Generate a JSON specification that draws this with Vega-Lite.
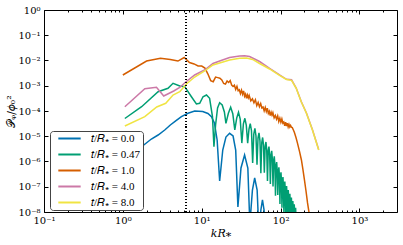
{
"$schema":"https://vega.github.io/schema/vega-lite/v6.json",
"width":353,"height":202,
"autosize":{"type":"none"},
"padding":{"left":44,"top":10,"right":6,"bottom":33},
"config":{"view":{"stroke":"#000","strokeWidth":1},"font":"DejaVu Serif"},
"data":{"values":[
{"t":"0.0","k":1,"P":7.27e-7},{"t":"0.0","k":1.4,"P":1.81e-6},{"t":"0.0","k":1.73,"P":3.86e-6},{"t":"0.0","k":2.3,"P":7.78e-6},{"t":"0.0","k":2.8,"P":1.12e-5},{"t":"0.0","k":3.4,"P":1.77e-5},{"t":"0.0","k":4.0,"P":2.79e-5},{"t":"0.0","k":4.55,"P":3.77e-5},{"t":"0.0","k":5.53,"P":5.95e-5},{"t":"0.0","k":6.71,"P":8.11e-5},{"t":"0.0","k":8.15,"P":1.0e-4},{"t":"0.0","k":10.3,"P":9.55e-5},{"t":"0.0","k":12.0,"P":7.96e-5},{"t":"0.0","k":13.3,"P":5.95e-5},{"t":"0.0","k":14.5,"P":3.35e-5},{"t":"0.0","k":15.7,"P":7.1e-6},{"t":"0.0","k":16.9,"P":1.69e-7},{"t":"0.0","k":18.5,"P":2.85e-6},{"t":"0.0","k":20.3,"P":9.33e-6},{"t":"0.0","k":22.6,"P":1.31e-5},{"t":"0.0","k":25,"P":1.02e-5},{"t":"0.0","k":27,"P":2.85e-6},{"t":"0.0","k":28.8,"P":1.58e-8},{"t":"0.0","k":31.5,"P":5.53e-7},{"t":"0.0","k":35,"P":1.81e-6},{"t":"0.0","k":38.5,"P":5.53e-7},{"t":"0.0","k":40.8,"P":3.2e-9},{"t":"0.0","k":44,"P":7.43e-8},{"t":"0.0","k":47,"P":2.22e-7},{"t":"0.0","k":50.5,"P":7.43e-8},{"t":"0.0","k":53.5,"P":1e-9},{"t":"0.0","k":56.3,"P":1.2e-8},{"t":"0.0","k":59,"P":2.99e-8},{"t":"0.0","k":61.8,"P":1.2e-8},{"t":"0.0","k":64.5,"P":1e-9},
{"t":"0.47","k":1.06,"P":5.05e-5},{"t":"0.47","k":1.73,"P":1.48e-4},{"t":"0.47","k":2.8,"P":5.81e-4},{"t":"0.47","k":3.74,"P":7.93e-4},{"t":"0.47","k":4.33,"P":1.25e-3},{"t":"0.47","k":5.27,"P":9.77e-4},{"t":"0.47","k":6.09,"P":9.17e-4},{"t":"0.47","k":7.41,"P":3.68e-4},{"t":"0.47","k":8.57,"P":1.89e-4},{"t":"0.47","k":9.43,"P":2.02e-4},{"t":"0.47","k":10.4,"P":3.68e-4},{"t":"0.47","k":11.5,"P":4.3e-4},{"t":"0.47","k":12.6,"P":3.18e-4},{"t":"0.47","k":13.7,"P":5.95e-5},{"t":"0.47","k":14.3,"P":3.86e-6},{"t":"0.47","k":15.0,"P":2.79e-5},{"t":"0.47","k":15.9,"P":1.32e-4},{"t":"0.47","k":16.9,"P":2.13e-4},{"t":"0.47","k":18.2,"P":1.73e-4},{"t":"0.47","k":19.4,"P":9.12e-5},
{"t":"0.47","k":20.3,"P":3.24e-5},{"t":"0.47","k":21.8,"P":8.13e-5},{"t":"0.47","k":23.3,"P":1.41e-4},{"t":"0.47","k":24.8,"P":7.76e-5},
{"t":"0.47","k":26.3,"P":1.78e-5},{"t":"0.47","k":27.8,"P":5.25e-5},{"t":"0.47","k":29.3,"P":8.89e-5},{"t":"0.47","k":30.8,"P":4.79e-5},
{"t":"0.47","k":32.3,"P":5.37e-6},{"t":"0.47","k":33.8,"P":3.09e-5},{"t":"0.47","k":35.3,"P":5.15e-5},{"t":"0.47","k":36.8,"P":2.69e-5},
{"t":"0.47","k":38.3,"P":5.37e-6},{"t":"0.47","k":39.8,"P":1.91e-5},{"t":"0.47","k":41.3,"P":3.16e-5},{"t":"0.47","k":42.8,"P":1.66e-5},
{"t":"0.47","k":44.3,"P":8.71e-7},{"t":"0.47","k":45.8,"P":1.23e-5},{"t":"0.47","k":47.3,"P":2.06e-5},{"t":"0.47","k":48.8,"P":1.05e-5},
{"t":"0.47","k":50.3,"P":7.41e-7},{"t":"0.47","k":51.8,"P":8.51e-6},{"t":"0.47","k":53.3,"P":1.35e-5},{"t":"0.47","k":54.8,"P":6.76e-6},
{"t":"0.47","k":56.3,"P":3.47e-7},{"t":"0.47","k":57.8,"P":5.62e-6},{"t":"0.47","k":59.3,"P":8.95e-6},{"t":"0.47","k":60.8,"P":4.47e-6},
{"t":"0.47","k":62.3,"P":3.63e-7},{"t":"0.47","k":63.8,"P":3.89e-6},{"t":"0.47","k":65.3,"P":5.94e-6},{"t":"0.47","k":66.8,"P":2.88e-6},
{"t":"0.47","k":68.3,"P":1.7e-7},{"t":"0.47","k":69.8,"P":2.57e-6},{"t":"0.47","k":71.3,"P":3.91e-6},{"t":"0.47","k":72.8,"P":1.86e-6},
{"t":"0.47","k":74.3,"P":1.29e-7},{"t":"0.47","k":75.8,"P":1.74e-6},{"t":"0.47","k":77.3,"P":2.65e-6},{"t":"0.47","k":78.8,"P":1.23e-6},
{"t":"0.47","k":80.3,"P":1.02e-7},{"t":"0.47","k":81.8,"P":1.07e-6},{"t":"0.47","k":83.3,"P":1.6e-6},{"t":"0.47","k":84.8,"P":7.24e-7},
{"t":"0.47","k":86.3,"P":4.37e-8},{"t":"0.47","k":87.8,"P":6.31e-7},{"t":"0.47","k":89.3,"P":9.55e-7},{"t":"0.47","k":90.8,"P":4.27e-7},
{"t":"0.47","k":92.3,"P":4.68e-8},{"t":"0.47","k":93.8,"P":3.98e-7},{"t":"0.47","k":95.3,"P":5.89e-7},{"t":"0.47","k":96.8,"P":2.63e-7},
{"t":"0.47","k":98.3,"P":2.09e-8},{"t":"0.47","k":99.8,"P":2.51e-7},{"t":"0.47","k":101.3,"P":3.7e-7},{"t":"0.47","k":102.8,"P":1.66e-7},
{"t":"0.47","k":104.3,"P":1.48e-8},{"t":"0.47","k":105.8,"P":1.62e-7},{"t":"0.47","k":107.3,"P":2.4e-7},{"t":"0.47","k":108.8,"P":1.07e-7},
{"t":"0.47","k":110.3,"P":9.8e-9},{"t":"0.47","k":111.8,"P":1.1e-7},{"t":"0.47","k":113.3,"P":1.61e-7},{"t":"0.47","k":114.8,"P":7.08e-8},
{"t":"0.47","k":116.3,"P":6.3e-9},{"t":"0.47","k":117.8,"P":7.24e-8},{"t":"0.47","k":119.3,"P":1.07e-7},{"t":"0.47","k":120.8,"P":4.79e-8},
{"t":"0.47","k":122.3,"P":4.0e-9},{"t":"0.47","k":123.8,"P":5.01e-8},{"t":"0.47","k":125.3,"P":7.43e-8},{"t":"0.47","k":126.8,"P":3.31e-8},
{"t":"0.47","k":128.3,"P":2.5e-9},{"t":"0.47","k":129.8,"P":3.55e-8},{"t":"0.47","k":131.3,"P":5.25e-8},{"t":"0.47","k":132.8,"P":2.34e-8},
{"t":"0.47","k":134.3,"P":1.6e-9},{"t":"0.47","k":135.8,"P":2.51e-8},{"t":"0.47","k":137.3,"P":3.72e-8},{"t":"0.47","k":138.8,"P":1.7e-8},
{"t":"0.47","k":140.3,"P":1.0e-9},{"t":"0.47","k":141.8,"P":1.86e-8},{"t":"0.47","k":143.3,"P":2.75e-8},{"t":"0.47","k":144.8,"P":1.26e-8},
{"t":"0.47","k":146.3,"P":1.0e-9},{"t":"0.47","k":147.8,"P":1.35e-8},{"t":"0.47","k":149.3,"P":2.0e-8},{"t":"0.47","k":150.8,"P":8.9e-9},
{"t":"0.47","k":152.3,"P":1.0e-9},{"t":"0.47","k":153.8,"P":1.0e-8},{"t":"0.47","k":155.3,"P":1.48e-8},{"t":"0.47","k":156.8,"P":7e-9},{"t":"0.47","k":158.3,"P":1e-9},
{"t":"1.0","k":1,"P":2.67e-3},{"t":"1.0","k":2,"P":9.5e-3},{"t":"1.0","k":3,"P":1.22e-2},{"t":"1.0","k":4,"P":1.1e-2},{"t":"1.0","k":5,"P":9.5e-3},{"t":"1.0","k":6,"P":1.31e-2},{"t":"1.0","k":7,"P":8.3e-3},{"t":"1.0","k":8,"P":7.3e-3},{"t":"1.0","k":9,"P":6.05e-3},{"t":"1.0","k":10,"P":6.0e-3},{"t":"1.0","k":11,"P":5.0e-3},{"t":"1.0","k":12,"P":2.9e-3},{"t":"1.0","k":13,"P":1.6e-3},{"t":"1.0","k":14,"P":1.45e-3},{"t":"1.0","k":15,"P":2.2e-3},{"t":"1.0","k":16,"P":2.1e-3},{"t":"1.0","k":17,"P":2.0e-3},{"t":"1.0","k":18,"P":1.7e-3},{"t":"1.0","k":19,"P":1.23e-3},{"t":"1.0","k":20,"P":1.17e-3},{"t":"1.0","k":21,"P":1.54e-3},{"t":"1.0","k":22,"P":1.35e-3},{"t":"1.0","k":23,"P":1.6e-3},{"t":"1.0","k":24,"P":1.07e-3},{"t":"1.0","k":25,"P":9.3e-4},
{"t":"1.0","k":26,"P":1.047e-3},{"t":"1.0","k":27,"P":7.14e-4},{"t":"1.0","k":28,"P":9.48e-4},{"t":"1.0","k":29,"P":6.35e-4},{"t":"1.0","k":30,"P":6.9e-4},{"t":"1.0","k":31,"P":4.86e-4},{"t":"1.0","k":32,"P":6.7e-4},{"t":"1.0","k":33,"P":4.61e-4},{"t":"1.0","k":34,"P":6.25e-4},{"t":"1.0","k":35,"P":3.86e-4},{"t":"1.0","k":36,"P":4.68e-4},{"t":"1.0","k":37,"P":3.18e-4},{"t":"1.0","k":38,"P":4.32e-4},{"t":"1.0","k":39,"P":3.31e-4},{"t":"1.0","k":40,"P":4.12e-4},
{"t":"1.0","k":42,"P":2.5e-4},{"t":"1.0","k":44,"P":3.03e-4},{"t":"1.0","k":46,"P":2.12e-4},{"t":"1.0","k":48,"P":2.79e-4},{"t":"1.0","k":50,"P":1.64e-4},{"t":"1.0","k":52,"P":2.17e-4},{"t":"1.0","k":54,"P":1.48e-4},{"t":"1.0","k":56,"P":1.97e-4},{"t":"1.0","k":58,"P":1.32e-4},{"t":"1.0","k":60,"P":1.43e-4},{"t":"1.0","k":62,"P":1.01e-4},{"t":"1.0","k":64,"P":1.39e-4},{"t":"1.0","k":66,"P":9.57e-5},{"t":"1.0","k":68,"P":1.29e-4},{"t":"1.0","k":70,"P":8.02e-5},{"t":"1.0","k":72,"P":9.7e-5},{"t":"1.0","k":74,"P":6.59e-5},{"t":"1.0","k":76,"P":8.95e-5},{"t":"1.0","k":78,"P":6.87e-5},{"t":"1.0","k":80,"P":8.55e-5},
{"t":"1.0","k":83,"P":5.32e-5},{"t":"1.0","k":86,"P":6.64e-5},{"t":"1.0","k":89,"P":4.76e-5},{"t":"1.0","k":92,"P":6.37e-5},{"t":"1.0","k":95,"P":3.82e-5},{"t":"1.0","k":98,"P":5.15e-5},{"t":"1.0","k":101,"P":3.57e-5},{"t":"1.0","k":104,"P":4.82e-5},{"t":"1.0","k":107,"P":3.28e-5},{"t":"1.0","k":110,"P":3.62e-5},{"t":"1.0","k":113,"P":2.58e-5},{"t":"1.0","k":116,"P":3.61e-5},{"t":"1.0","k":119,"P":2.51e-5},{"t":"1.0","k":122,"P":3.31e-5},{"t":"1.0","k":125,"P":2.34e-5},{"t":"1.0","k":128,"P":2.95e-5},{"t":"1.0","k":131,"P":2.34e-5},{"t":"1.0","k":134,"P":2.69e-5},{"t":"1.0","k":137,"P":2.29e-5},
{"t":"1.0","k":141,"P":2.19e-5},{"t":"1.0","k":146,"P":1.74e-5},{"t":"1.0","k":150,"P":1.41e-5},{"t":"1.0","k":157,"P":8.9e-6},{"t":"1.0","k":164,"P":5.37e-6},{"t":"1.0","k":174,"P":2.51e-6},{"t":"1.0","k":184,"P":1.15e-6},{"t":"1.0","k":192,"P":5.0e-7},{"t":"1.0","k":201,"P":1.86e-7},{"t":"1.0","k":210,"P":7.1e-8},{"t":"1.0","k":220,"P":2.29e-8},{"t":"1.0","k":232,"P":7.9e-9},
{"t":"4.0","k":1.06,"P":1.48e-4},{"t":"4.0","k":1.9,"P":7.57e-4},{"t":"4.0","k":2.67,"P":8.77e-4},{"t":"4.0","k":3.3,"P":3.93e-4},{"t":"4.0","k":4.42,"P":6.19e-4},{"t":"4.0","k":5.27,"P":8.53e-4},{"t":"4.0","k":6.27,"P":1.41e-3},{"t":"4.0","k":8.15,"P":2.67e-3},{"t":"4.0","k":10.9,"P":4.21e-3},{"t":"4.0","k":13.9,"P":7.61e-3},{"t":"4.0","k":16.9,"P":9.55e-3},{"t":"4.0","k":22.6,"P":1.31e-2},{"t":"4.0","k":30.3,"P":1.51e-2},{"t":"4.0","k":35,"P":1.55e-2},{"t":"4.0","k":40.5,"P":1.44e-2},{"t":"4.0","k":54.2,"P":9.12e-3},{"t":"4.0","k":72.6,"P":4.91e-3},{"t":"4.0","k":97.1,"P":2.67e-3},{"t":"4.0","k":119,"P":1.8e-3},{"t":"4.0","k":138,"P":1.72e-3},{"t":"4.0","k":158,"P":8.1e-4},{"t":"4.0","k":183,"P":2.38e-4},{"t":"4.0","k":213,"P":8.3e-5},{"t":"4.0","k":254,"P":1.8e-5},{"t":"4.0","k":305,"P":2.9e-6},
{"t":"8.0","k":1.06,"P":2.55e-5},{"t":"8.0","k":1.9,"P":5.95e-5},{"t":"8.0","k":2.69,"P":1.44e-4},{"t":"8.0","k":3.5,"P":2.02e-4},{"t":"8.0","k":4.33,"P":4.3e-4},{"t":"8.0","k":5.27,"P":5.81e-4},{"t":"8.0","k":6.4,"P":1.17e-3},{"t":"8.0","k":8.15,"P":2.22e-3},{"t":"8.0","k":10.9,"P":3.84e-3},{"t":"8.0","k":13.9,"P":6.64e-3},{"t":"8.0","k":16.9,"P":7.96e-3},{"t":"8.0","k":22.6,"P":1.05e-2},{"t":"8.0","k":30.3,"P":1.22e-2},{"t":"8.0","k":37.1,"P":1.26e-2},{"t":"8.0","k":44.2,"P":1.1e-2},{"t":"8.0","k":54.2,"P":7.61e-3},{"t":"8.0","k":72.6,"P":4.61e-3},{"t":"8.0","k":97.1,"P":2.55e-3},{"t":"8.0","k":119,"P":1.77e-3},{"t":"8.0","k":138,"P":1.64e-3},{"t":"8.0","k":158,"P":7.93e-4},{"t":"8.0","k":183,"P":2.33e-4},{"t":"8.0","k":213,"P":8.11e-5},{"t":"8.0","k":254,"P":1.77e-5},{"t":"8.0","k":305,"P":2.85e-6}
]},
"layer":[
{"mark":{"type":"line","clip":true,"strokeWidth":1.5},
 "encoding":{
  "x":{"field":"k","type":"quantitative","scale":{"type":"log","domain":[0.1,3000],"nice":false},
   "axis":{"orient":"bottom","values":[0.1,0.2,0.3,0.4,0.5,0.6,0.7,0.8,0.9,1,2,3,4,5,6,7,8,9,10,20,30,40,50,60,70,80,90,100,200,300,400,500,600,700,800,900,1000,2000],
    "labelExpr":"abs(log(datum.value)/LN10-round(log(datum.value)/LN10))<0.001 ? '10' + (datum.value<0.5?'⁻':'') + substring('⁰¹²³⁴⁵⁶⁷⁸⁹', abs(round(log(datum.value)/LN10)), abs(round(log(datum.value)/LN10))+1) : ''",
    "tickSize":{"condition":{"test":"abs(log(datum.value)/LN10-round(log(datum.value)/LN10))<0.001","value":-4},"value":-2},
    "domain":false,"grid":false,"tickColor":"#000","labelColor":"#000","labelFont":"DejaVu Serif","labelFontSize":10,"labelPadding":7,"labelFlush":false,"labelOverlap":false,
    "title":"𝑘𝑅⁎","titleFont":"DejaVu Serif","titleFontSize":11,"titleFontWeight":"normal","titleColor":"#000","titlePadding":0}},
  "y":{"field":"P","type":"quantitative","scale":{"type":"log","domain":[1e-8,1],"nice":false},
   "axis":{"orient":"left","values":[1e-8,1e-7,1e-6,1e-5,1e-4,1e-3,1e-2,1e-1,1],
    "labelExpr":"'10' + (datum.value<0.5?'⁻':'') + substring('⁰¹²³⁴⁵⁶⁷⁸⁹', abs(round(log(datum.value)/LN10)), abs(round(log(datum.value)/LN10))+1)",
    "tickSize":-4,"domain":false,"grid":false,"tickColor":"#000","labelColor":"#000","labelFont":"DejaVu Serif","labelFontSize":10,"labelPadding":8,"labelFlush":false,"labelOverlap":false,
    "title":"𝒫ᵩ/𝜙₀²","titleFont":"DejaVu Serif","titleFontSize":11,"titleFontWeight":"normal","titleColor":"#000","titlePadding":1}},
  "color":{"field":"t","type":"nominal","scale":{"domain":["0.0","0.47","1.0","4.0","8.0"],"range":["#0072B2","#009E73","#D55E00","#CC79A7","#F0E442"]},
   "legend":{"orient":"none","legendX":6,"legendY":121,"title":null,"symbolType":"stroke","symbolSize":500,"symbolStrokeWidth":2,"clipHeight":11,"rowPadding":4,"labelFont":"Liberation Serif","labelFontSize":11,"labelColor":"#000","labelExpr":"'𝑡/𝑅⁎ = ' + datum.label","strokeColor":"#444","fillColor":"#fff","cornerRadius":3,"padding":2,"symbolOffset":5,"labelOffset":9}}
 }},
{"mark":{"type":"rule","strokeDash":[1,2],"color":"#000","strokeWidth":1},
 "encoding":{"x":{"datum":6.283,"type":"quantitative",
   "axis":{"orient":"top","values":[0.1,0.2,0.3,0.4,0.5,0.6,0.7,0.8,0.9,1,2,3,4,5,6,7,8,9,10,20,30,40,50,60,70,80,90,100,200,300,400,500,600,700,800,900,1000,2000],"labels":false,
    "tickSize":{"condition":{"test":"abs(log(datum.value)/LN10-round(log(datum.value)/LN10))<0.001","value":-4},"value":-2},
    "domain":false,"grid":false,"tickColor":"#000","title":null}}}},
{"mark":{"type":"point","opacity":0},
 "encoding":{"y":{"datum":1e-4,"type":"quantitative",
   "axis":{"orient":"right","values":[1e-8,1e-7,1e-6,1e-5,1e-4,1e-3,1e-2,1e-1,1],"labels":false,"tickSize":-4,"domain":false,"grid":false,"tickColor":"#000","title":null}}}}
],
"resolve":{"axis":{"x":"independent","y":"independent"}}
}
